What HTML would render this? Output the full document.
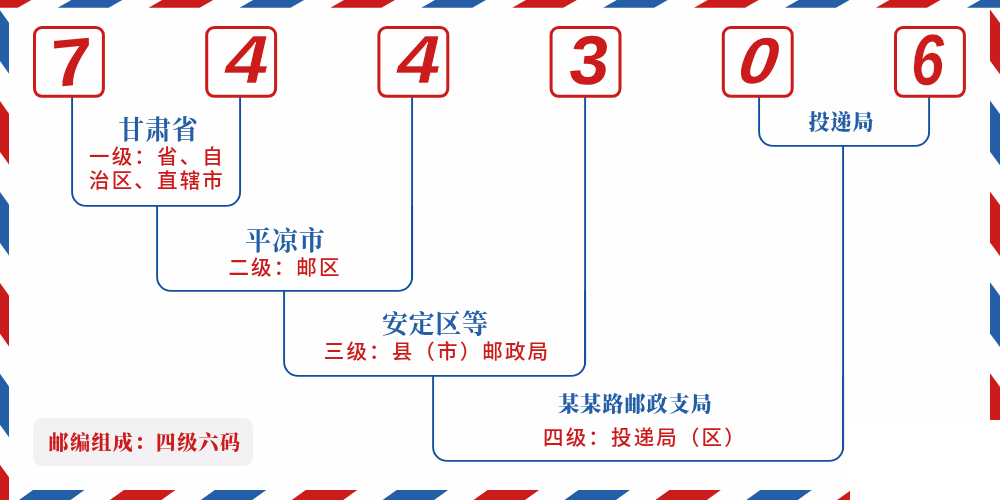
<!DOCTYPE html>
<html lang="zh-CN"><head><meta charset="utf-8"><title>744306</title>
<style>
html,body{margin:0;padding:0}
body{width:1000px;height:500px;overflow:hidden;background:#fdfefd;position:relative;font-family:"Liberation Sans","Noto Sans CJK SC",sans-serif}
svg{position:absolute;left:0;top:0}
.t{position:absolute;white-space:nowrap;text-align:center;transform:translateX(-50%);will-change:transform}
.b{font-family:"Liberation Serif","Noto Serif CJK SC",serif;font-weight:700;color:#245ea6}
.r{padding-left:2px;font-family:"Liberation Sans","Noto Sans CJK SC",sans-serif;color:#cc1b1b;font-size:20.5px;letter-spacing:2.15px;font-weight:500;line-height:24px}
</style></head><body>
<svg width="1000" height="500" viewBox="0 0 1000 500">
<polygon fill="#cc1b1b" points="-33.21,7.8 17.79,7.8 31.39,0 -19.61,0"/>
<polygon fill="#245ea6" points="57.70,7.8 108.70,7.8 122.30,0 71.30,0"/>
<polygon fill="#cc1b1b" points="148.61,7.8 199.61,7.8 213.21,0 162.21,0"/>
<polygon fill="#245ea6" points="239.52,7.8 290.52,7.8 304.12,0 253.12,0"/>
<polygon fill="#cc1b1b" points="330.43,7.8 381.43,7.8 395.03,0 344.03,0"/>
<polygon fill="#245ea6" points="421.34,7.8 472.34,7.8 485.94,0 434.94,0"/>
<polygon fill="#cc1b1b" points="512.25,7.8 563.25,7.8 576.85,0 525.85,0"/>
<polygon fill="#245ea6" points="603.15,7.8 654.15,7.8 667.75,0 616.75,0"/>
<polygon fill="#cc1b1b" points="694.06,7.8 745.06,7.8 758.66,0 707.66,0"/>
<polygon fill="#245ea6" points="784.97,7.8 835.97,7.8 849.57,0 798.57,0"/>
<polygon fill="#cc1b1b" points="875.88,7.8 926.88,7.8 940.48,0 889.48,0"/>
<polygon fill="#245ea6" points="966.79,7.8 1017.79,7.8 1031.39,0 980.39,0"/>
<polygon fill="#245ea6" points="19.00,500 70.50,500 84.50,490 33.00,490"/>
<polygon fill="#cc1b1b" points="109.91,500 161.41,500 175.41,490 123.91,490"/>
<polygon fill="#245ea6" points="200.82,500 252.32,500 266.32,490 214.82,490"/>
<polygon fill="#cc1b1b" points="291.73,500 343.23,500 357.23,490 305.73,490"/>
<polygon fill="#245ea6" points="382.64,500 434.14,500 448.14,490 396.64,490"/>
<polygon fill="#cc1b1b" points="473.55,500 525.05,500 539.05,490 487.55,490"/>
<polygon fill="#245ea6" points="564.45,500 615.95,500 629.95,490 578.45,490"/>
<polygon fill="#cc1b1b" points="655.36,500 706.86,500 720.86,490 669.36,490"/>
<polygon fill="#245ea6" points="746.27,500 797.77,500 811.77,490 760.27,490"/>
<polygon fill="#cc1b1b" points="837.18,500 888.68,500 902.68,490 851.18,490"/>
<polygon fill="#245ea6" points="928.09,500 979.59,500 993.59,490 942.09,490"/>
<polygon fill="#cc1b1b" points="1019.00,500 1070.50,500 1084.50,490 1033.00,490"/>
<polygon fill="#cc1b1b" points="0,-80.71 0,-29.81 9,-17.21 9,-68.11"/>
<polygon fill="#245ea6" points="0,10.20 0,61.10 9,73.70 9,22.80"/>
<polygon fill="#cc1b1b" points="0,101.11 0,152.01 9,164.61 9,113.71"/>
<polygon fill="#245ea6" points="0,192.02 0,242.92 9,255.52 9,204.62"/>
<polygon fill="#cc1b1b" points="0,282.93 0,333.83 9,346.43 9,295.53"/>
<polygon fill="#245ea6" points="0,373.84 0,424.74 9,437.34 9,386.44"/>
<polygon fill="#cc1b1b" points="0,464.75 0,515.65 9,528.25 9,477.35"/>
<polygon fill="#245ea6" points="990,-81.31 990,-30.11 1000,-16.61 1000,-67.81"/>
<polygon fill="#cc1b1b" points="990,9.60 990,60.80 1000,74.30 1000,23.10"/>
<polygon fill="#245ea6" points="990,100.51 990,151.71 1000,165.21 1000,114.01"/>
<polygon fill="#cc1b1b" points="990,191.42 990,242.62 1000,256.12 1000,204.92"/>
<polygon fill="#245ea6" points="990,282.33 990,333.53 1000,347.03 1000,295.83"/>
<polygon fill="#cc1b1b" points="990,373.24 990,424.44 1000,437.94 1000,386.74"/>
<polygon fill="#245ea6" points="990,464.15 990,515.35 1000,528.85 1000,477.65"/>
<rect x="850" y="420" width="150" height="80" fill="#ffffff"/>
<rect x="33" y="418" width="220" height="48" rx="9" fill="#f3f1f4"/>
<path d="M72.1,96 V191.9 A14,14 0 0 0 86.1,205.9 H226.1 A14,14 0 0 0 240.1,191.9 V96" fill="none" stroke="#124f9e" stroke-width="1.9"/>
<path d="M157.1,205.9 V276.9 A14,14 0 0 0 171.1,290.9 H398.1 A14,14 0 0 0 412.1,276.9 V205.9" fill="none" stroke="#124f9e" stroke-width="1.9"/>
<path d="M284.1,290.9 V361.9 A14,14 0 0 0 298.1,375.9 H571.1 A14,14 0 0 0 585.1,361.9 V290.9" fill="none" stroke="#124f9e" stroke-width="1.9"/>
<path d="M433.1,375.9 V446.9 A14,14 0 0 0 447.1,460.9 H829.1 A14,14 0 0 0 843.1,446.9 V375.9" fill="none" stroke="#124f9e" stroke-width="1.9"/>
<path d="M759.1,96 V131.9 A14,14 0 0 0 773.1,145.9 H915.1 A14,14 0 0 0 929.1,131.9 V96" fill="none" stroke="#124f9e" stroke-width="1.9"/>
<path d="M412.1,96 V280 M585.1,96 V365 M843.1,145.9 V450" stroke="#124f9e" stroke-width="1.9" fill="none"/>
<rect x="34.50" y="27.5" width="68.9" height="68.8" rx="7.5" fill="#fdfefd" stroke="#cc1b1b" stroke-width="3"/>
<rect x="206.70" y="27.5" width="68.9" height="68.8" rx="7.5" fill="#fdfefd" stroke="#cc1b1b" stroke-width="3"/>
<rect x="378.90" y="27.5" width="68.9" height="68.8" rx="7.5" fill="#fdfefd" stroke="#cc1b1b" stroke-width="3"/>
<rect x="551.10" y="27.5" width="68.9" height="68.8" rx="7.5" fill="#fdfefd" stroke="#cc1b1b" stroke-width="3"/>
<rect x="723.30" y="27.5" width="68.9" height="68.8" rx="7.5" fill="#fdfefd" stroke="#cc1b1b" stroke-width="3"/>
<rect x="895.50" y="27.5" width="68.9" height="68.8" rx="7.5" fill="#fdfefd" stroke="#cc1b1b" stroke-width="3"/>
<text transform="translate(51.77,87.33) scale(0.7447,0.6667) rotate(-6) skewX(-5)" font-family="Liberation Sans, sans-serif" font-weight="bold" font-style="normal" font-size="100" fill="#cc1b1b">7</text>
<text transform="translate(225.16,82.90) scale(0.7821,0.6783) rotate(0) skewX(0)" font-family="Liberation Sans, sans-serif" font-weight="bold" font-style="italic" font-size="100" fill="#cc1b1b" stroke="#fdfefd" stroke-width="1.10">4</text>
<text transform="translate(397.36,82.90) scale(0.7821,0.6783) rotate(0) skewX(0)" font-family="Liberation Sans, sans-serif" font-weight="bold" font-style="italic" font-size="100" fill="#cc1b1b" stroke="#fdfefd" stroke-width="1.10">4</text>
<text transform="translate(567.15,84.31) scale(0.7115,0.6901) rotate(0) skewX(-6)" font-family="Liberation Sans, sans-serif" font-weight="bold" font-style="normal" font-size="100" fill="#cc1b1b">3</text>
<text transform="translate(736.16,83.35) scale(0.6909,0.6479) rotate(0) skewX(-8)" font-family="Liberation Sans, sans-serif" font-weight="bold" font-style="italic" font-size="100" fill="#cc1b1b">0</text>
<text transform="translate(910.88,85.43) scale(0.5941,0.7225) rotate(0) skewX(0)" font-family="Liberation Sans, sans-serif" font-weight="bold" font-style="italic" font-size="100" fill="#cc1b1b" stroke="#fdfefd" stroke-width="0.46">6</text>
</svg>

<div class="t b" style="left:157.5px;top:113.4px;font-size:26px;line-height:36px;letter-spacing:0.7px;padding-left:0.7px">甘肃省</div>
<div class="t r" style="left:156px;top:145.3px">一级：省、自<br>治区、直辖市</div>
<div class="t b" style="left:285px;top:223.8px;font-size:26px;line-height:36px;letter-spacing:0.7px;padding-left:0.7px">平凉市</div>
<div class="t r" style="left:283.9px;top:255.8px">二级：邮区</div>
<div class="t b" style="left:434.9px;top:307.1px;font-size:26px;line-height:36px;letter-spacing:0.7px;padding-left:0.7px">安定区等</div>
<div class="t r" style="left:435.5px;top:339.7px">三级：县（市）邮政局</div>
<div class="t b" style="left:635px;top:388.8px;font-size:21px;letter-spacing:1.1px;padding-left:1.1px;line-height:30px;font-weight:900">某某路邮政支局</div>
<div class="t r" style="left:643.8px;top:426.2px">四级：投递局（区）</div>
<div class="t b" style="left:840.6px;top:106.6px;font-size:21px;letter-spacing:1.1px;padding-left:1.1px;line-height:30px;font-weight:900">投递局</div>
<div class="t b" style="left:144.7px;top:427.6px;font-size:20px;letter-spacing:1.45px;line-height:30px;font-weight:900;color:#cc1b1b">邮编组成：四级六码</div>
</body></html>
